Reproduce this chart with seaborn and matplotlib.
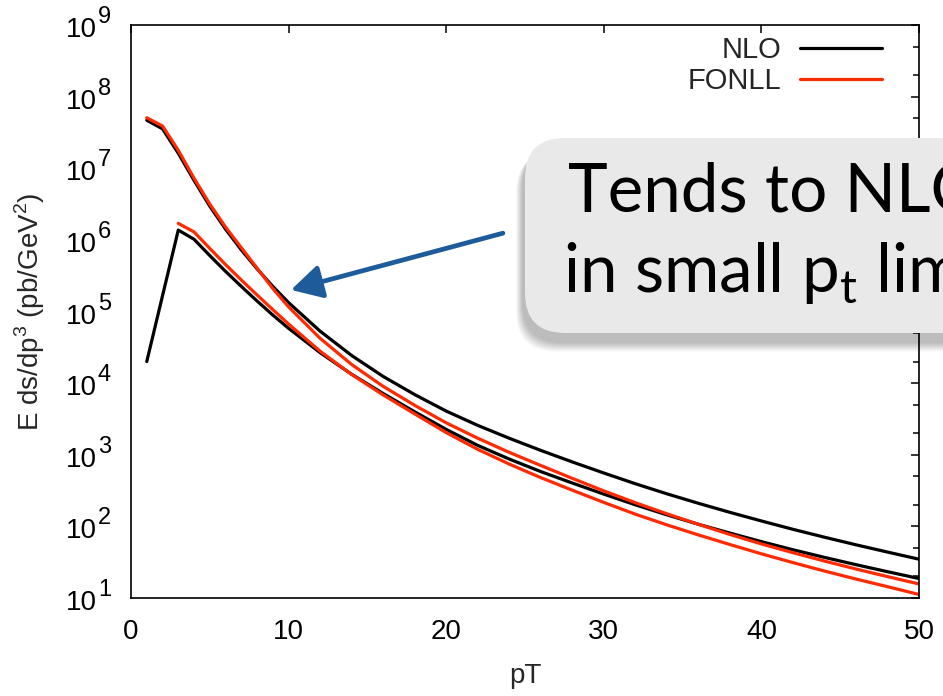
import matplotlib
matplotlib.use("Agg")
import numpy as np
import pandas as pd
import matplotlib.pyplot as plt
import seaborn as sns
from matplotlib.patches import FancyBboxPatch
from matplotlib.lines import Line2D
from matplotlib.ticker import LogLocator, NullFormatter, FixedLocator
from matplotlib.transforms import IdentityTransform, offset_copy

# ---------------- data ----------------
pt_grid = [1, 2, 3, 4, 5, 6, 7, 8, 9, 10, 12, 14, 16, 18, 20, 22, 24, 26, 28,
           30, 32, 34, 36, 38, 40, 42, 44, 46, 48, 50]
pt_grid_low_fonll = [3, 4, 5, 6, 7, 8, 9, 10, 12, 14, 16, 18, 20, 22, 24, 26,
                     28, 30, 32, 34, 36, 38, 40, 42, 44, 46, 48, 50]

nlo_high = [4.68e7, 3.55e7, 1.62e7, 6.76e6, 2.95e6, 1.41e6, 7.24e5, 3.94e5,
            2.24e5, 1.33e5, 5.31e4, 2.43e4, 1.24e4, 6.92e3, 4.07e3, 2.57e3,
            1.70e3, 1.15e3, 794, 556, 394, 285, 210, 157, 119, 91.0, 70.6,
            55.3, 43.8, 34.8]
fonll_high = [5.07e7, 3.89e7, 1.78e7, 7.24e6, 3.16e6, 1.51e6, 7.76e5, 4.03e5,
              2.09e5, 1.16e5, 4.22e4, 1.82e4, 9.02e3, 4.90e3, 2.79e3, 1.70e3,
              1.08e3, 708, 468, 313, 214, 150, 107, 77.1, 56.9, 42.9, 32.8,
              25.4, 19.9, 15.7]
nlo_low = [2.00e4, 1.66e5, 1.37e6, 1.02e6, 6.03e5, 3.63e5, 2.24e5, 1.40e5,
           8.91e4, 5.82e4, 2.66e4, 1.33e4, 7.16e3, 3.98e3, 2.26e3, 1.35e3,
           871, 582, 403, 282, 200, 145, 107, 80.7, 61.2, 47.2, 36.9, 29.2,
           23.3, 18.7]
fonll_low = [1.70e6, 1.29e6, 7.59e5, 4.52e5, 2.75e5, 1.70e5, 1.06e5, 6.68e4,
             2.79e4, 1.32e4, 6.84e3, 3.72e3, 2.04e3, 1.19e3, 741, 479, 320,
             216, 148, 105, 76.0, 55.8, 41.4, 31.2, 23.8, 18.4, 14.4, 11.2]

models = ["NLO", "FONLL"]
x_ticks = [0, 10, 20, 30, 40, 50]
y_exponents = [1, 2, 3, 4, 5, 6, 7, 8, 9]
callout_lines = ["Tends to NLO", "in small p$_{\\mathdefault{t}}$ limit"]

frames = [
    pd.DataFrame({"pT": pt_grid, "sigma": nlo_high, "model": "NLO", "curve": "nlo_high"}),
    pd.DataFrame({"pT": pt_grid, "sigma": nlo_low, "model": "NLO", "curve": "nlo_low"}),
    pd.DataFrame({"pT": pt_grid, "sigma": fonll_high, "model": "FONLL", "curve": "fonll_high"}),
    pd.DataFrame({"pT": pt_grid_low_fonll, "sigma": fonll_low, "model": "FONLL", "curve": "fonll_low"}),
]
df = pd.concat(frames, ignore_index=True)

# ---------------- style ----------------
sns.set_style("white")
plt.rcParams["font.family"] = ["Liberation Sans", "DejaVu Sans"]
RED = "#ff2a00"
palette = {"NLO": "black", "FONLL": RED}
FS = 20

W, H = 943, 696
fig = plt.figure(figsize=(W / 100, H / 100), dpi=100)
ax = fig.add_axes([131 / W, 98 / H, 788 / W, 573 / H])

sns.lineplot(data=df, x="pT", y="sigma", hue="model", hue_order=models,
             units="curve", estimator=None, palette=palette, linewidth=2.3,
             legend=False, ax=ax)

ax.set_yscale("log")
ax.set_xlim(0, 50)
ax.set_ylim(1e1, 1e9)
y_ticks = [10.0 ** e for e in y_exponents]
ax.xaxis.set_major_locator(FixedLocator(x_ticks))
ax.yaxis.set_major_locator(FixedLocator(y_ticks))
ax.yaxis.set_minor_locator(LogLocator(base=10, subs=(2.0, 5.0), numticks=20))
ax.yaxis.set_minor_formatter(NullFormatter())
ax.set_xticklabels([str(t) for t in x_ticks])

for s in ax.spines.values():
    s.set_visible(True)
    s.set_color("black")
    s.set_linewidth(1.2)

ax.tick_params(axis="both", which="both", direction="in", top=True, right=True,
               colors="black", width=1.1, labelsize=FS)
ax.tick_params(axis="both", which="major", length=6)
ax.tick_params(axis="y", which="minor", length=4)
ax.tick_params(axis="x", which="major", pad=15)
ax.tick_params(axis="y", which="both", labelleft=False)

# y tick labels drawn as "10" with a large raised exponent (gnuplot style)
ytr = ax.get_yaxis_transform()
for e, v in zip(y_exponents, y_ticks):
    ax.text(0, v, "10", transform=offset_copy(ytr, fig=fig, x=-34, y=-5, units="dots"),
            ha="right", va="center", fontsize=FS, color="black")
    ax.text(0, v, str(e), transform=offset_copy(ytr, fig=fig, x=-33, y=8, units="dots"),
            ha="left", va="center", fontsize=17, color="black")

ax.set_xlabel("pT", fontsize=FS, labelpad=13)
ax.set_ylabel("E ds/dp$^{\\mathdefault{3}}$ (pb/GeV$^{\\mathdefault{2}}$)", fontsize=FS)
ax.yaxis.set_label_coords((47 - 131) / 788, 0.5)

handles = [Line2D([], [], color=palette[m], lw=2.3) for m in models]
ax.legend(handles, models, loc="upper right", bbox_to_anchor=(882 / W, 1 - 36 / H),
          bbox_transform=fig.transFigure, frameon=False, markerfirst=False,
          handlelength=2.8, handletextpad=0.65, labelspacing=0.1, borderpad=0,
          borderaxespad=0, fontsize=21)

# ---------------- arrow ----------------
ax.annotate("", xy=(10.15, 2.0e5), xytext=(23.6, 1.24e6),
            arrowprops=dict(arrowstyle="-|>,head_length=1.1,head_width=0.6",
                            color="#1d5b9b", lw=3.4, shrinkA=0, shrinkB=0,
                            mutation_scale=17))

# ---------------- callout box (pixel coordinates) ----------------
bx0, btop, bbot, bx1 = 525, 138, 333, 1010
tr = IdentityTransform()
for i in range(14):
    grow = 14 - i
    shadow = FancyBboxPatch((bx0 - 2 - grow * 0.5, H - bbot - 9 - grow * 0.7),
                            bx1 - bx0, (bbot - btop) + grow * 0.3,
                            boxstyle="round,pad=0,rounding_size=40",
                            transform=tr, facecolor="black", edgecolor="none",
                            alpha=0.02, zorder=9)
    fig.add_artist(shadow)
box = FancyBboxPatch((bx0, H - bbot), bx1 - bx0, bbot - btop,
                     boxstyle="round,pad=0,rounding_size=40", transform=tr,
                     facecolor="#e9e9e9", edgecolor="none", zorder=10)
fig.add_artist(box)

fig.text(568 / W, 1 - 212 / H, callout_lines[0], family=["Lato", "DejaVu Sans"],
         fontsize=48.5, color="black", va="baseline", ha="left", zorder=11)
fig.text(563 / W, 1 - 292 / H, callout_lines[1], family=["Lato", "DejaVu Sans"],
         fontsize=48.5, color="black", va="baseline", ha="left", zorder=11)

fig.savefig("out.png", dpi=100)
